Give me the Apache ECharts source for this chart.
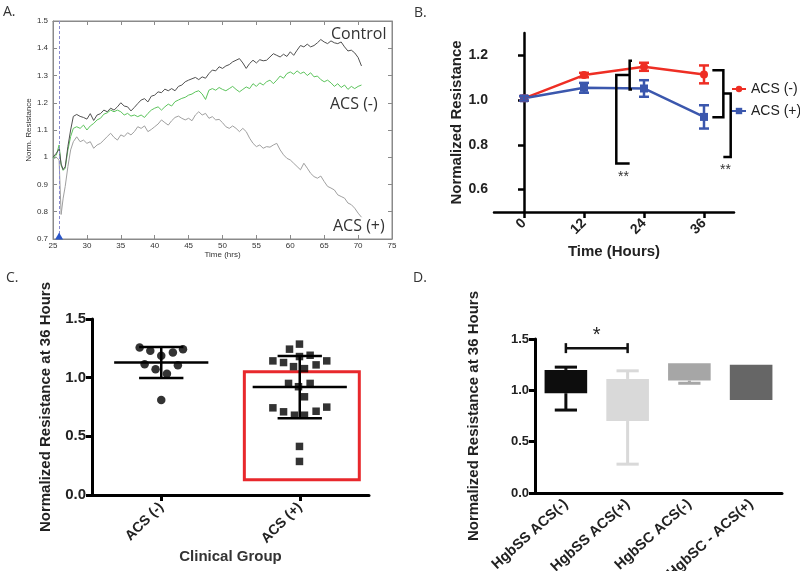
<!DOCTYPE html>
<html><head><meta charset="utf-8">
<script src="https://cdn.jsdelivr.net/npm/echarts@6/dist/echarts.min.js"></script>
<style>html,body{margin:0;padding:0;background:#fff}#c{width:800px;height:571px}</style>
</head><body><div id="c"></div>
<script>
// ---------- Panel A: continuous resistance traces ----------
const timeA = [25,25.5,25.9,26.2,26.5,26.8,27.2,27.6,
  28,28.5,29,29.5,30,30.5,31,31.5,32,32.5,
  33,33.5,34,34.5,35,35.5,36,36.5,37,37.5,
  38,38.5,39,39.5,40,40.5,41,41.5,42,42.5,
  43,43.5,44,44.5,45,45.5,46,46.5,47,47.5,
  48,48.5,49,49.5,50,50.5,51,51.5,52,52.5,
  53,53.5,54,54.5,55,55.5,56,56.5,57,57.5,
  58,58.5,59,59.5,60,60.5,61,61.5,62,62.5,
  63,63.5,64,64.5,65,65.5,66,66.5,67,67.5,
  68,68.5,69,69.5,70,70.5];
const controlA = [1.0,1.015,1.03,0.975,0.955,0.965,1.04,1.10,
  1.15,1.157,1.15,1.146,1.14,1.16,1.135,1.155,1.16,1.173,
  1.167,1.18,1.173,1.185,1.2,1.188,1.185,1.17,1.183,1.197,
  1.21,1.215,1.203,1.224,1.228,1.24,1.237,1.25,1.244,1.252,
  1.244,1.26,1.265,1.277,1.283,1.288,1.293,1.285,1.295,1.29,
  1.307,1.32,1.317,1.332,1.326,1.335,1.34,1.35,1.356,1.362,
  1.346,1.326,1.344,1.356,1.346,1.358,1.354,1.356,1.368,1.38,
  1.374,1.368,1.378,1.37,1.387,1.374,1.393,1.41,1.405,1.415,
  1.405,1.41,1.42,1.432,1.423,1.417,1.427,1.42,1.417,1.423,
  1.405,1.39,1.393,1.383,1.366,1.335];
const acsNegA = [0.996,1.008,1.045,0.97,0.952,0.96,1.027,1.076,
  1.106,1.112,1.106,1.118,1.1,1.115,1.124,1.137,1.143,1.158,
  1.163,1.173,1.167,1.173,1.167,1.155,1.161,1.151,1.155,1.149,
  1.155,1.146,1.161,1.173,1.18,1.185,1.173,1.185,1.195,1.188,
  1.204,1.21,1.216,1.22,1.228,1.232,1.24,1.244,1.232,1.212,
  1.246,1.252,1.246,1.256,1.249,1.244,1.252,1.26,1.249,1.24,
  1.249,1.258,1.252,1.27,1.26,1.273,1.265,1.277,1.283,1.27,
  1.283,1.298,1.29,1.307,1.313,1.305,1.317,1.307,1.313,1.3,
  1.31,1.295,1.298,1.285,1.277,1.283,1.273,1.26,1.27,1.256,
  1.265,1.249,1.26,1.252,1.26,1.265];
const acsPosA = [0.993,1.0,0.99,0.79,0.85,0.893,0.966,1.027,
  1.057,1.075,1.057,1.063,1.051,1.057,1.033,1.045,1.051,1.063,
  1.076,1.088,1.073,1.063,1.082,1.076,1.09,1.082,1.094,1.112,
  1.106,1.115,1.094,1.102,1.112,1.122,1.137,1.127,1.118,1.134,
  1.146,1.151,1.143,1.137,1.143,1.134,1.155,1.167,1.155,1.161,
  1.143,1.149,1.137,1.139,1.127,1.112,1.106,1.115,1.106,1.094,
  1.106,1.094,1.07,1.051,1.039,1.045,1.033,1.039,1.037,1.045,
  1.051,1.027,1.009,0.996,0.99,0.978,0.966,0.954,0.978,0.96,
  0.941,0.929,0.923,0.931,0.911,0.893,0.887,0.88,0.862,0.856,
  0.85,0.832,0.826,0.813,0.795,0.78];
const injectionTimeA = 25.9;
const seriesNamesA = ['Control', 'ACS (-)', 'ACS (+)'];

// ---------- Panel B: mean ± SEM over time ----------
const hoursB = [0, 12, 24, 36];
const acsNegMeanB = [1.008, 1.112, 1.149, 1.115];
const acsNegErrB = [0.010, 0.010, 0.018, 0.040];
const acsPosMeanB = [1.008, 1.055, 1.052, 0.925];
const acsPosErrB = [0.010, 0.022, 0.037, 0.052];
const bracketsB = [
  [[21.6, 1.176], [21.13, 1.176], [21.13, 1.048], [21.6, 1.048]],
  [[21.13, 1.112], [18.46, 1.112], [18.46, 0.717], [21.13, 0.717]],
  [[37.67, 1.134], [39.87, 1.134], [39.87, 0.923], [37.67, 0.923]],
  [[39.87, 1.030], [41.34, 1.030], [41.34, 0.746], [39.87, 0.746]]
];
const starsB = [[19.9, 0.655, '**'], [40.3, 0.685, '**']];

// ---------- Panel C: individual values at 36 h ----------
const groupsC = ['ACS (-)', 'ACS (+)'];
const acsNegC = [[0.344,1.257],[0.421,1.229],[0.5,1.186],[0.584,1.214],[0.657,1.243],
  [0.38,1.114],[0.459,1.071],[0.541,1.034],[0.62,1.106],[0.5,0.809]];
const acsPosC = [[1.426,1.243],[1.498,1.286],[1.575,1.191],[1.498,1.180],[1.306,1.143],
  [1.383,1.129],[1.695,1.143],[1.618,1.109],[1.455,1.094],[1.534,1.077],
  [1.419,0.951],[1.491,0.923],[1.575,0.951],[1.534,0.837],[1.306,0.743],
  [1.383,0.709],[1.462,0.680],[1.534,0.680],[1.618,0.714],[1.695,0.749],
  [1.498,0.414],[1.498,0.286]];
const meanC = [1.129, 0.920];
const sdC = [0.132, 0.265];
const highlightC = [[1.10, 1.05], [1.93, 0.13]];

// ---------- Panel D: box plots by genotype ----------
const groupsD = ['HgbSS ACS(-)', 'HgbSS ACS(+)', 'HgbSC ACS(-)', 'HgbSC - ACS(+)'];
const minD = [0.808, 0.281, 1.069, 0.906];
const q1D  = [0.972, 0.701, 1.095, 0.906];
const q3D  = [1.199, 1.111, 1.265, 1.248];
const maxD = [1.226, 1.190, 1.265, 1.248];
const sigD = [0, 1, 1.411, '*'];

// ---------- styling ----------
const boxColorsD = ['#0d0d0d', '#d9d9d9', '#a6a6a6', '#666666'];
const RED = '#ee2e24', BLUE = '#3b57ad';
const BOLD = {fontFamily: 'Liberation Sans', fontWeight: 'bold', color: '#222'};

const chart = echarts.init(document.getElementById('c'), null, {renderer: 'canvas'});

const axA = {color: '#8a8a8a', width: 1};
const option = {
  animation: false,
  backgroundColor: '#fff',
  grid: [
    {left: 53, top: 21, width: 339, height: 218, show: true, borderColor: '#8a8a8a', borderWidth: 1, outerBoundsMode: 'none', containLabel: false},
    {left: 494, top: 33, width: 240, height: 179, outerBoundsMode: 'none', containLabel: false},
    {left: 92, top: 319, width: 277, height: 176, outerBoundsMode: 'none', containLabel: false},
    {left: 535, top: 339, width: 247, height: 154, outerBoundsMode: 'none', containLabel: false}
  ],
  xAxis: [
    {gridIndex: 0, type: 'value', min: 25, max: 75, interval: 5,
     name: 'Time (hrs)', nameLocation: 'middle', nameGap: 12,
     nameTextStyle: {fontSize: 8, color: '#333', fontFamily: 'Liberation Sans'},
     axisLine: {lineStyle: axA}, axisTick: {inside: true, length: 4, lineStyle: axA},
     axisLabel: {fontSize: 8, color: '#333', margin: 3, fontFamily: 'Liberation Sans'}, splitLine: {show: false}},
    {gridIndex: 0, type: 'value', position: 'top', min: 25, max: 75, interval: 5,
     axisLine: {lineStyle: axA}, axisTick: {inside: true, length: 4, lineStyle: axA},
     axisLabel: {show: false}, splitLine: {show: false}},
    {gridIndex: 1, type: 'value', min: -6, max: 42,
     name: 'Time (Hours)', nameLocation: 'middle', nameGap: 32,
     nameTextStyle: Object.assign({fontSize: 15}, BOLD),
     axisLine: {lineStyle: {color: '#000', width: 2.5}},
     axisTick: {customValues: hoursB, length: 6, lineStyle: {color: '#000', width: 2.5}},
     axisLabel: Object.assign({customValues: hoursB, rotate: 45, fontSize: 14, margin: 9}, BOLD),
     splitLine: {show: false}},
    {gridIndex: 2, type: 'value', min: 0, max: 2,
     name: 'Clinical Group', nameLocation: 'middle', nameGap: 52,
     nameTextStyle: Object.assign({fontSize: 15}, BOLD, {color: '#333'}),
     axisLine: {lineStyle: {color: '#000', width: 3}},
     axisTick: {customValues: [0.5, 1.5], length: 6, lineStyle: {color: '#000', width: 3}},
     axisLabel: Object.assign({customValues: [0.5, 1.5], rotate: 45, fontSize: 14, margin: 10,
       formatter: v => groupsC[Math.round(v - 0.5)]}, BOLD),
     splitLine: {show: false}},
    {gridIndex: 3, type: 'category', data: groupsD,
     axisLine: {lineStyle: {color: '#000', width: 3}},
     axisTick: {alignWithLabel: true, length: 6, lineStyle: {color: '#000', width: 3}},
     axisLabel: Object.assign({rotate: 42, fontSize: 14.5, margin: 9, interval: 0}, BOLD)}
  ],
  yAxis: [
    {gridIndex: 0, type: 'value', min: 0.7, max: 1.5, interval: 0.1,
     name: 'Norm. Resistance', nameLocation: 'middle', nameGap: 17,
     nameTextStyle: {fontSize: 8, color: '#333', fontFamily: 'Liberation Sans'},
     axisLine: {lineStyle: axA}, axisTick: {inside: true, length: 4, lineStyle: axA},
     axisLabel: {fontSize: 8, color: '#333', margin: 5, fontFamily: 'Liberation Sans',
       formatter: v => String(Math.round(v * 10) / 10)}, splitLine: {show: false}},
    {gridIndex: 0, type: 'value', position: 'right', min: 0.7, max: 1.5, interval: 0.1,
     axisLine: {lineStyle: axA}, axisTick: {inside: true, length: 4, lineStyle: axA},
     axisLabel: {show: false}, splitLine: {show: false}},
    {gridIndex: 1, type: 'value', min: 0.5, max: 1.3,
     name: 'Normalized Resistance', nameLocation: 'middle', nameGap: 28,
     nameTextStyle: Object.assign({fontSize: 15}, BOLD),
     axisLine: {show: true, lineStyle: {color: '#000', width: 2.5}},
     axisTick: {show: true, customValues: [0.6, 0.8, 1.0, 1.2], length: 6, lineStyle: {color: '#000', width: 2.5}},
     axisLabel: Object.assign({customValues: [0.6, 0.8, 1.0, 1.2], fontSize: 14, margin: 6,
       formatter: v => v.toFixed(1)}, BOLD),
     splitLine: {show: false}},
    {gridIndex: 2, type: 'value', min: 0, max: 1.5, interval: 0.5,
     name: 'Normalized Resistance at 36 Hours', nameLocation: 'middle', nameGap: 39,
     nameTextStyle: Object.assign({fontSize: 15}, BOLD),
     axisLine: {show: true, lineStyle: {color: '#000', width: 3}},
     axisTick: {show: true, length: 6, lineStyle: {color: '#000', width: 3}},
     axisLabel: Object.assign({fontSize: 15, margin: 6, formatter: v => v.toFixed(1)}, BOLD),
     splitLine: {show: false}},
    {gridIndex: 3, type: 'value', min: 0, max: 1.5, interval: 0.5,
     name: 'Normalized Resistance at 36 Hours', nameLocation: 'middle', nameGap: 54,
     nameTextStyle: Object.assign({fontSize: 15}, BOLD),
     axisLine: {show: true, lineStyle: {color: '#000', width: 3}},
     axisTick: {show: true, length: 6, lineStyle: {color: '#000', width: 3}},
     axisLabel: Object.assign({fontSize: 13, margin: 6, formatter: v => v.toFixed(1)}, BOLD),
     splitLine: {show: false}}
  ],
  legend: {
    left: 731, top: 82, orient: 'vertical', itemGap: 8, itemWidth: 14, itemHeight: 8,
    data: ['ACS (-)', 'ACS (+)'],
    textStyle: {fontSize: 14, color: '#222', fontFamily: 'Liberation Sans'},
    padding: 0
  },
  series: []
};

// Panel A traces
const colorsA = ['#505050', '#5cc45c', '#a0a0a0'];
[controlA, acsNegA, acsPosA].forEach((vals, k) => {
  const s = {
    name: 'A_' + seriesNamesA[k], type: 'line', xAxisIndex: 0, yAxisIndex: 0,
    data: timeA.map((t, i) => [t, vals[i]]), showSymbol: false, symbol: 'none',
    lineStyle: {color: colorsA[k], width: 1}, z: 3 - k
  };
  if (k === 0) {
    s.markLine = {silent: true, symbol: 'none', label: {show: false},
      lineStyle: {type: [3, 2], color: '#8c8cd0', width: 1},
      data: [{xAxis: injectionTimeA}]};
    s.markPoint = {symbol: 'triangle', symbolSize: [8, 7], itemStyle: {color: '#2a55c8'},
      label: {show: false}, data: [{coord: [injectionTimeA, 0.7], symbolOffset: [0, -3]}]};
  }
  option.series.push(s);
});

// Panel B lines
option.series.push({
  name: 'ACS (-)', type: 'line', xAxisIndex: 2, yAxisIndex: 2,
  data: hoursB.map((h, i) => [h, acsNegMeanB[i]]),
  symbol: 'circle', symbolSize: 8, lineStyle: {color: RED, width: 2.5}, itemStyle: {color: RED}, z: 4
});
option.series.push({
  name: 'ACS (+)', type: 'line', xAxisIndex: 2, yAxisIndex: 2,
  data: hoursB.map((h, i) => [h, acsPosMeanB[i]]),
  symbol: 'rect', symbolSize: 8, lineStyle: {color: BLUE, width: 2.5}, itemStyle: {color: BLUE}, z: 4
});
// Panel B error bars
function errBarSeries(means, errs, color) {
  return {
    type: 'custom', xAxisIndex: 2, yAxisIndex: 2, z: 5, silent: true,
    data: hoursB.map((h, i) => [h, means[i] - errs[i], means[i] + errs[i]]),
    renderItem: (params, api) => {
      const lo = api.coord([api.value(0), api.value(1)]);
      const hi = api.coord([api.value(0), api.value(2)]);
      const st = {stroke: color, lineWidth: 2.5};
      const w = 5;
      return {type: 'group', children: [
        {type: 'line', shape: {x1: lo[0], y1: lo[1], x2: hi[0], y2: hi[1]}, style: st},
        {type: 'line', shape: {x1: lo[0] - w, y1: lo[1], x2: lo[0] + w, y2: lo[1]}, style: st},
        {type: 'line', shape: {x1: hi[0] - w, y1: hi[1], x2: hi[0] + w, y2: hi[1]}, style: st}
      ]};
    }
  };
}
option.series.push(errBarSeries(acsNegMeanB, acsNegErrB, RED));
option.series.push(errBarSeries(acsPosMeanB, acsPosErrB, BLUE));
// Panel B significance brackets
option.series.push({
  type: 'custom', xAxisIndex: 2, yAxisIndex: 2, z: 6, silent: true, clip: false,
  data: bracketsB.map((b, i) => [i]),
  renderItem: (params, api) => {
    const pts = bracketsB[api.value(0)].map(p => api.coord(p));
    return {type: 'polyline', shape: {points: pts}, style: {stroke: '#000', lineWidth: 2.5, fill: null}};
  }
});
option.series.push({
  type: 'custom', xAxisIndex: 2, yAxisIndex: 2, z: 6, silent: true, clip: false,
  data: starsB.map(s => [s[0], s[1]]),
  renderItem: (params, api) => {
    const p = api.coord([api.value(0), api.value(1)]);
    return {type: 'text', x: p[0], y: p[1], style: {text: starsB[params.dataIndex][2], fontSize: 14,
      fontFamily: 'Liberation Sans', fill: '#333', align: 'center', verticalAlign: 'middle'}};
  }
});

// Panel C scatter
option.series.push({
  type: 'scatter', xAxisIndex: 3, yAxisIndex: 3, data: acsNegC,
  symbol: 'circle', symbolSize: 8.5, itemStyle: {color: '#000'}, z: 3
});
option.series.push({
  type: 'scatter', xAxisIndex: 3, yAxisIndex: 3, data: acsPosC,
  symbol: 'rect', symbolSize: 7.5, itemStyle: {color: '#000'}, z: 3,
  markArea: {silent: true, itemStyle: {color: 'rgba(0,0,0,0)', borderColor: '#e8282c', borderWidth: 3},
    data: [[{coord: highlightC[0]}, {coord: highlightC[1]}]]}
});
option.series.push({
  type: 'custom', xAxisIndex: 3, yAxisIndex: 3, z: 4, silent: true,
  data: meanC.map((m, i) => [i + 0.5, m, sdC[i]]),
  renderItem: (params, api) => {
    const x = api.value(0), m = api.value(1), sd = api.value(2);
    const pm = api.coord([x, m]);
    const pHi = api.coord([x, m + sd]), pLo = api.coord([x, m - sd]);
    const unit = api.size([1, 0])[0];
    const mw = unit * 0.34, cw = unit * 0.16;
    const st = {stroke: '#000', lineWidth: 2.5};
    return {type: 'group', children: [
      {type: 'line', shape: {x1: pm[0] - mw, y1: pm[1], x2: pm[0] + mw, y2: pm[1]}, style: st},
      {type: 'line', shape: {x1: pHi[0], y1: pHi[1], x2: pLo[0], y2: pLo[1]}, style: st},
      {type: 'line', shape: {x1: pHi[0] - cw, y1: pHi[1], x2: pHi[0] + cw, y2: pHi[1]}, style: st},
      {type: 'line', shape: {x1: pLo[0] - cw, y1: pLo[1], x2: pLo[0] + cw, y2: pLo[1]}, style: st}
    ]};
  }
});

// Panel D boxes
option.series.push({
  type: 'custom', xAxisIndex: 4, yAxisIndex: 4, z: 3, silent: true,
  data: groupsD.map((g, i) => [i, minD[i], q1D[i], q3D[i], maxD[i]]),
  renderItem: (params, api) => {
    const i = api.value(0);
    const band = api.size([1, 0])[0];
    const bw = band * 0.69, cw = band * 0.18;
    const pMin = api.coord([i, api.value(1)]), pQ1 = api.coord([i, api.value(2)]);
    const pQ3 = api.coord([i, api.value(3)]), pMax = api.coord([i, api.value(4)]);
    const cx = pQ1[0], col = boxColorsD[i];
    const st = {stroke: col, lineWidth: 3};
    const ch = [{type: 'rect', shape: {x: cx - bw / 2, y: pQ3[1], width: bw, height: pQ1[1] - pQ3[1]},
      style: {fill: col}}];
    if (pQ3[1] - pMax[1] > 0.5) {
      ch.push({type: 'line', shape: {x1: cx, y1: pQ3[1], x2: cx, y2: pMax[1]}, style: st});
      ch.push({type: 'line', shape: {x1: cx - cw, y1: pMax[1], x2: cx + cw, y2: pMax[1]}, style: st});
    }
    if (pMin[1] - pQ1[1] > 0.5) {
      ch.push({type: 'line', shape: {x1: cx, y1: pQ1[1], x2: cx, y2: pMin[1]}, style: st});
      ch.push({type: 'line', shape: {x1: cx - cw, y1: pMin[1], x2: cx + cw, y2: pMin[1]}, style: st});
    }
    return {type: 'group', children: ch};
  }
});
option.series.push({
  type: 'custom', xAxisIndex: 4, yAxisIndex: 4, z: 4, silent: true, clip: false,
  data: [sigD.slice(0, 3)],
  renderItem: (params, api) => {
    const a = api.coord([api.value(0), api.value(2)]);
    const b = api.coord([api.value(1), api.value(2)]);
    const st = {stroke: '#111', lineWidth: 2.5};
    return {type: 'group', children: [
      {type: 'line', shape: {x1: a[0], y1: a[1], x2: b[0], y2: b[1]}, style: st},
      {type: 'line', shape: {x1: a[0], y1: a[1] - 5, x2: a[0], y2: a[1] + 5}, style: st},
      {type: 'line', shape: {x1: b[0], y1: b[1] - 5, x2: b[0], y2: b[1] + 5}, style: st},
      {type: 'text', x: (a[0] + b[0]) / 2, y: a[1] - 13, style: {text: sigD[3], fontSize: 20,
        fontFamily: 'Liberation Sans', fill: '#222', align: 'center', verticalAlign: 'middle'}}
    ]};
  }
});

// Text annotations
const letterStyle = {fontSize: 14, fontFamily: 'Open Sans', fill: '#333'};
option.graphic = [
  {type: 'text', x: 3, y: 5, style: Object.assign({text: 'A.'}, letterStyle)},
  {type: 'text', x: 414, y: 6, style: Object.assign({text: 'B.'}, letterStyle)},
  {type: 'text', x: 6, y: 271, style: Object.assign({text: 'C.'}, letterStyle)},
  {type: 'text', x: 413, y: 271, style: Object.assign({text: 'D.'}, letterStyle)},
  {type: 'text', x: 331, y: 34, style: {text: seriesNamesA[0], fontSize: 16, fontFamily: 'Open Sans', fill: '#333', verticalAlign: 'middle'}},
  {type: 'text', x: 330, y: 104, style: {text: seriesNamesA[1], fontSize: 16, fontFamily: 'Open Sans', fill: '#333', verticalAlign: 'middle'}},
  {type: 'text', x: 333, y: 226, style: {text: seriesNamesA[2], fontSize: 16, fontFamily: 'Open Sans', fill: '#333', verticalAlign: 'middle'}}
];

chart.setOption(option);
</script>
</body></html>
